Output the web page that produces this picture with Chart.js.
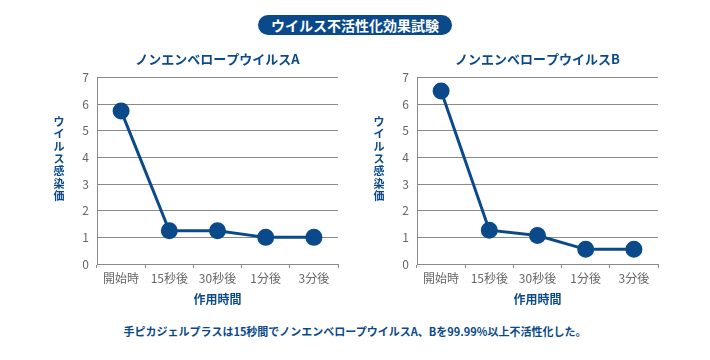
<!DOCTYPE html>
<html>
<head>
<meta charset="utf-8">
<script src="https://cdn.jsdelivr.net/npm/chart.js@4"></script>
<style>
    body { margin: 0; background: #fff; font-family: 'Noto Sans CJK JP', sans-serif; }
    #wrap { position: relative; width: 710px; height: 360px; }
    .badge {
        position: absolute; left: 258px; top: 15px; width: 194px; height: 20px;
        border-radius: 10px; background: #0b4a8a; color: #fff;
        font-weight: bold; font-size: 14px; line-height: 20px; text-align: center;
    }
    .note {
        position: absolute; left: 0; width: 710px; top: 323px; text-align: center;
        color: #0b4a8a; font-weight: bold; font-size: 11px;
    }
    .box { position: absolute; top: 45px; width: 320px; height: 265px; }
</style>
</head>
<body>
<div id="wrap">
    <div class="badge">ウイルス不活性化効果試験</div>
    <div class="box" style="left:40px"><canvas id="chartA" width="320" height="265"></canvas></div>
    <div class="box" style="left:360px"><canvas id="chartB" width="320" height="265"></canvas></div>
    <div class="note">手ピカジェルプラスは15秒間でノンエンベロープウイルスA、Bを99.99%以上不活性化した。</div>
</div>
<script>
    const categories = ['開始時', '15秒後', '30秒後', '1分後', '3分後'];
    const virusA = [5.75, 1.25, 1.25, 1.0, 1.0];
    const virusB = [6.5, 1.27, 1.07, 0.55, 0.55];
    const yTicks = [0, 1, 2, 3, 4, 5, 6, 7];
    const titleA = 'ノンエンベロープウイルスA';
    const titleB = 'ノンエンベロープウイルスB';
    const yTitle = 'ウイルス感染価';
    const xTitle = '作用時間';

    const blue = '#0b4a8a';
    const gridGray = '#8a8a8a';
    Chart.defaults.font.family = "'Noto Sans CJK JP', sans-serif";

    // vertical, upright y axis title
    const verticalTitle = {
        id: 'verticalTitle',
        afterDraw(chart) {
            const ctx = chart.ctx;
            const area = chart.chartArea;
            const chars = Array.from(yTitle);
            const step = 12.3;
            let y = (area.top + area.bottom) / 2 - 12 - step * (chars.length - 1) / 2;
            ctx.save();
            ctx.fillStyle = blue;
            ctx.font = "bold 11px 'Noto Sans CJK JP', sans-serif";
            ctx.textAlign = 'center';
            ctx.textBaseline = 'middle';
            chars.forEach(c => {
                ctx.fillText(c, 19, y);
                y += step;
            });
            ctx.restore();
        }
    };

    function makeChart(id, title, values) {
        const ctx = document.getElementById(id).getContext('2d');
        return new Chart(ctx, {
            type: 'line',
            data: {
                labels: categories,
                datasets: [{
                    data: values,
                    borderColor: blue,
                    backgroundColor: blue,
                    borderWidth: 3,
                    pointRadius: 7,
                    pointHoverRadius: 7,
                    tension: 0
                }]
            },
            options: {
                responsive: false,
                animation: false,
                layout: { padding: { left: 0, right: 22, top: 0, bottom: 0 } },
                scales: {
                    x: {
                        offset: true,
                        grid: {
                            offset: true,
                            drawOnChartArea: false,
                            drawTicks: true,
                            tickLength: 4,
                            color: gridGray
                        },
                        border: { color: gridGray },
                        ticks: { color: '#666', font: { size: 12 }, padding: 3, maxRotation: 0 },
                        title: {
                            display: true,
                            text: xTitle,
                            color: blue,
                            font: { size: 12, weight: 'bold' },
                            padding: { top: 6, bottom: 3 }
                        },
                        afterFit: scale => { scale.height = 46; }
                    },
                    y: {
                        min: 0,
                        max: 7,
                        afterBuildTicks: scale => { scale.ticks = yTicks.map(v => ({ value: v })); },
                        grid: { color: gridGray, drawTicks: false },
                        border: { color: gridGray },
                        ticks: { color: '#666', font: { size: 12 }, padding: 8 },
                        afterFit: scale => { scale.width = 57; }
                    }
                },
                plugins: {
                    legend: { display: false },
                    tooltip: { enabled: false },
                    title: {
                        display: true,
                        text: title,
                        fullSize: false,
                        color: blue,
                        font: { size: 13, weight: 'bold' },
                        padding: { top: 6, bottom: 11 }
                    }
                }
            },
            plugins: [verticalTitle]
        });
    }

    makeChart('chartA', titleA, virusA);
    makeChart('chartB', titleB, virusB);
</script>
</body>
</html>
